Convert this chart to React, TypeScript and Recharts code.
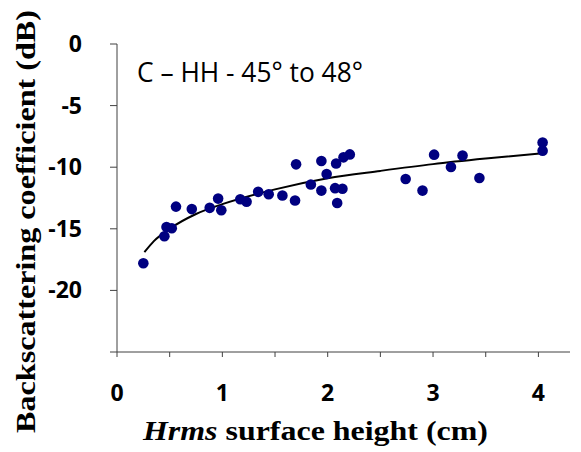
import React from 'react';
import { ScatterChart, Scatter, XAxis, YAxis } from 'recharts';

// measured surface roughness (cm) vs backscatter (dB)
const hrms = [
  0.25, 0.45, 0.47, 0.52, 0.56, 0.71, 0.88, 0.96, 0.99, 1.17, 1.23, 1.34, 1.44, 1.57, 1.69, 1.7,
  1.84, 1.94, 1.94, 1.99, 2.08, 2.07, 2.14, 2.09, 2.15, 2.21, 2.74, 2.9, 3.01, 3.17, 3.28, 3.44,
  4.04, 4.04,
];
const sigma = [
  -17.8, -15.6, -14.85, -14.96, -13.2, -13.4, -13.3, -12.55, -13.5, -12.6, -12.8, -12.0, -12.2,
  -12.3, -12.7, -9.77, -11.4, -9.5, -11.9, -10.55, -9.7, -11.7, -11.75, -12.9, -9.2, -8.96,
  -10.96, -11.9, -8.98, -9.98, -9.06, -10.88, -8.0, -8.66,
];

// logarithmic trend line
const trendX = [0.26, 0.35, 0.5, 0.75, 1.0, 1.5, 2.0, 2.5, 3.0, 3.5, 4.04];
const trendY = [-16.9, -16.0, -15.0, -13.8, -13.0, -11.8, -10.9, -10.3, -9.75, -9.3, -8.87];

const xTicks = [0, 0.5, 1, 1.5, 2, 2.5, 3, 3.5, 4];
const yTicks = [0, -5, -10, -15, -20, -25];

const points = hrms.map((x, i) => ({ x, y: sigma[i] }));
const trend = trendX.map((x, i) => ({ x, y: trendY[i] }));

const tickFont = { fontFamily: '"Open Sans", sans-serif', fontWeight: 700, fontSize: 23, fill: '#000' };

const XTick = (props: any) => {
  const { x, y, payload } = props;
  if (!Number.isInteger(payload.value)) return <g />;
  return (
    <text x={x} y={y + 42} textAnchor="middle" {...tickFont}>
      {payload.value}
    </text>
  );
};

const YTick = (props: any) => {
  const { x, y, payload } = props;
  if (payload.value === -25) return <g />;
  return (
    <text x={x - 26} y={y + 8} textAnchor="end" {...tickFont}>
      {payload.value}
    </text>
  );
};

const Dot = (props: any) => <circle cx={props.cx} cy={props.cy} r={5.3} fill="#000080" />;

const titleFont = {
  fontFamily: '"Liberation Serif", serif',
  fontWeight: 700,
  fontSize: 27,
  fill: '#000',
  lengthAdjust: 'spacingAndGlyphs',
};

export default function App() {
  return (
    <div style={{ position: 'absolute', left: 0, top: 0, width: 581, height: 452, background: '#fff' }}>
      <ScatterChart width={581} height={452} margin={{ top: 44, right: 11, bottom: 70, left: 0 }}>
        <XAxis
          type="number"
          dataKey="x"
          domain={[0, 4.3]}
          ticks={xTicks}
          allowDataOverflow
          height={30}
          stroke="#404040"
          tickSize={5}
          tick={<XTick />}
        />
        <YAxis
          type="number"
          dataKey="y"
          domain={[-25, 0]}
          ticks={yTicks}
          width={117}
          stroke="#404040"
          tickSize={7}
          tick={<YTick />}
        />
        <Scatter
          data={trend}
          line={{ stroke: '#000', strokeWidth: 2 }}
          lineJointType="monotoneX"
          shape={() => <g />}
          isAnimationActive={false}
        />
        <Scatter data={points} shape={<Dot />} isAnimationActive={false} />
      </ScatterChart>
      <svg
        width={581}
        height={452}
        style={{ position: 'absolute', left: 0, top: 0, pointerEvents: 'none' }}
      >
        <text
          x={137}
          y={82}
          fontFamily='"Open Sans", sans-serif'
          fontSize={27}
          textLength={226}
          lengthAdjust="spacingAndGlyphs"
          fill="#000"
        >
          C – HH - 45° to 48°
        </text>
        <text x={143} y={440} textLength={345} {...(titleFont as any)}>
          <tspan fontStyle="italic">Hrms</tspan> surface height (cm)
        </text>
        <text
          transform="translate(35 433) rotate(-90)"
          textLength={423}
          {...(titleFont as any)}
        >
          Backscattering coefficient (dB)
        </text>
      </svg>
    </div>
  );
}
